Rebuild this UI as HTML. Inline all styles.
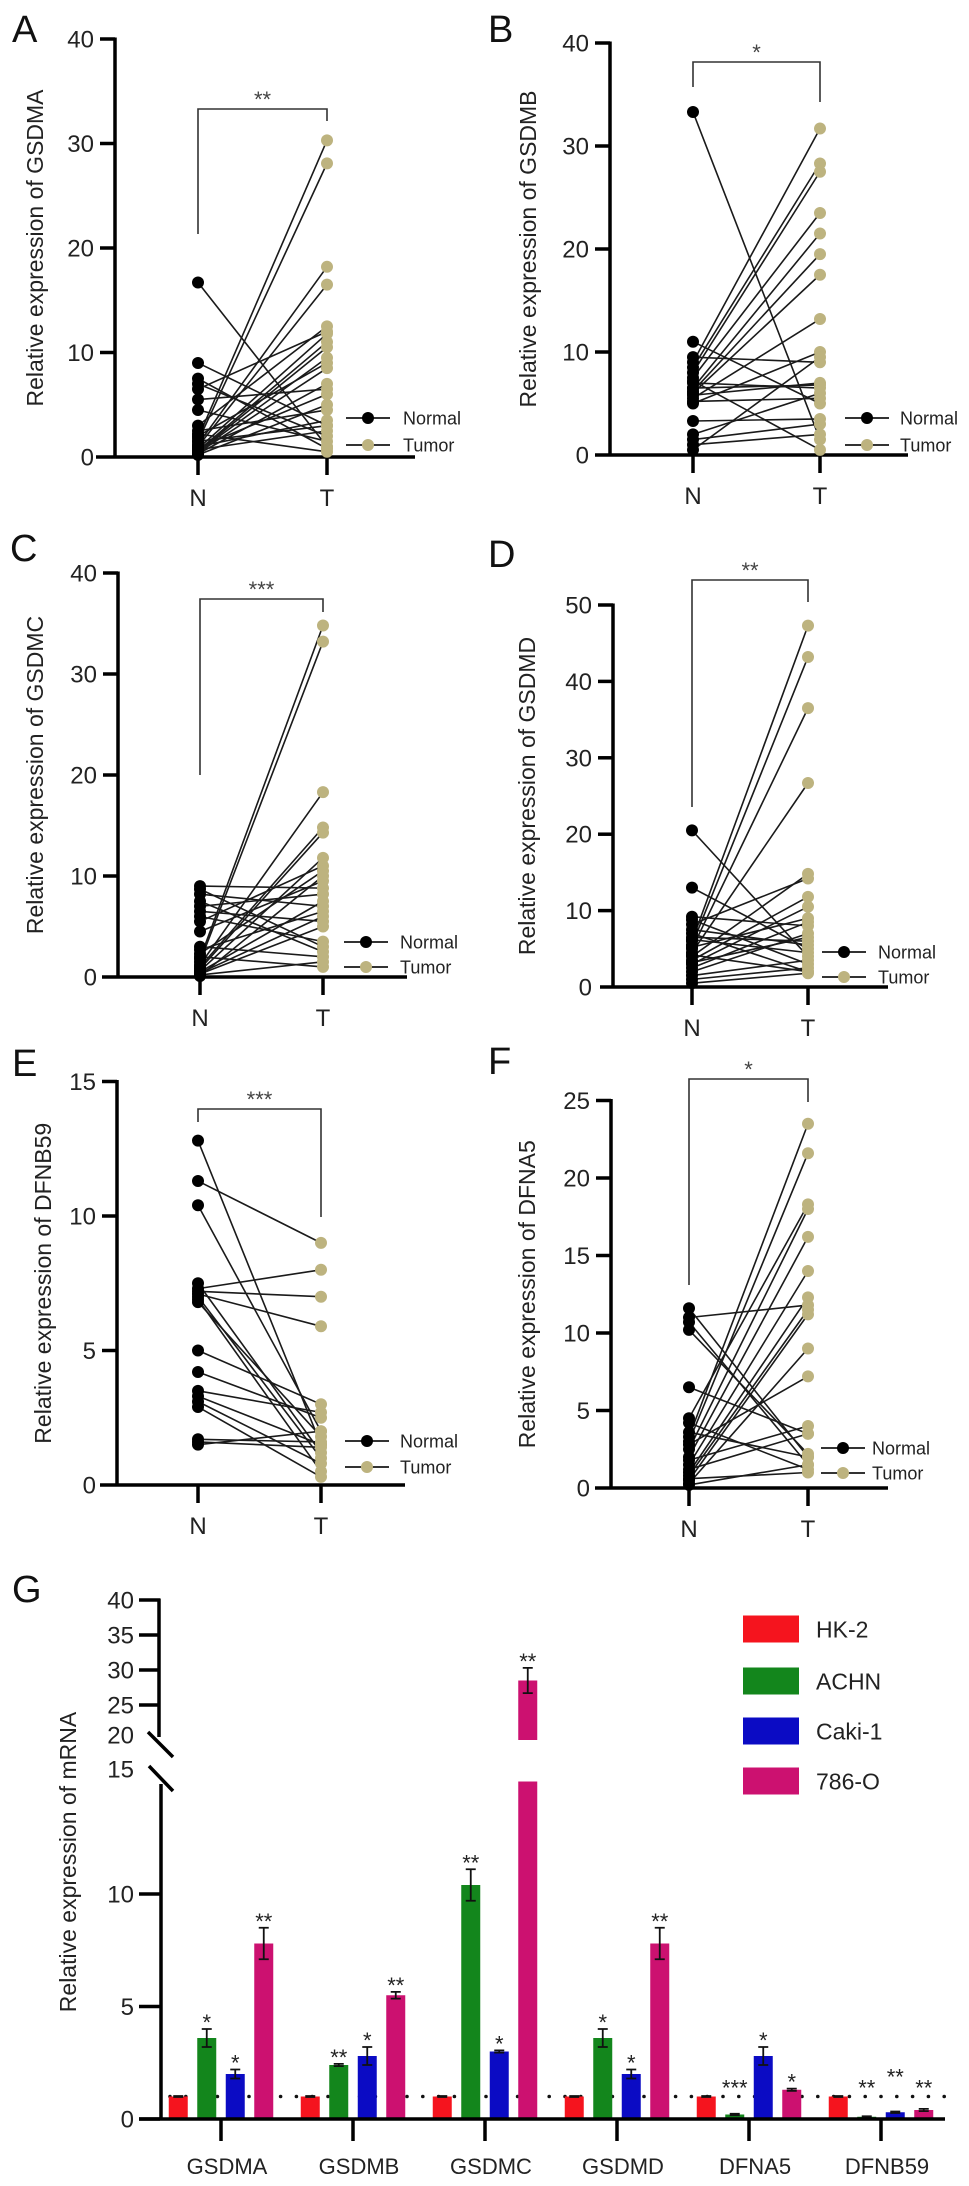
<!DOCTYPE html>
<html><head><meta charset="utf-8"><title>Gasdermin expression figure</title>
<style>
html,body{margin:0;padding:0;background:#fff;}
svg{display:block;font-family:"Liberation Sans",Arial,sans-serif;}
</style></head>
<body>
<svg id="fig" width="969" height="2186" viewBox="0 0 969 2186" xmlns="http://www.w3.org/2000/svg"></svg>
<script>
// ---------- Paired panel data (Normal -> Tumor) ----------
const gsdmaNormal = [16.7,9.0,7.5,7.0,6.5,5.5,4.5,3.0,2.5,2.0,1.8,1.5,1.2,1.0,0.8,0.6,0.5,0.4,0.3,0.2,1.0,0.7,2.2,0.9,0.5,1.5];
const gsdmaTumor  = [1.0,3.0,0.8,2.0,12.0,6.5,1.5,12.5,4.5,9.0,30.3,28.1,18.2,16.5,11.8,11.0,10.5,8.5,7.0,5.0,3.5,2.5,0.5,6.0,9.5,3.0];
const gsdmbNormal = [33.3,11.0,9.5,9.0,8.5,8.0,7.5,7.0,6.5,6.2,6.0,5.8,5.5,5.0,3.3,2.0,1.5,1.0,0.5,6.5,7.2,5.2];
const gsdmbTumor  = [1.5,5.0,9.0,31.7,28.3,27.5,23.5,6.5,21.5,19.5,17.5,7.0,13.2,10.0,3.5,6.0,3.0,2.0,9.5,6.8,0.5,5.5];
const gsdmcNormal = [9.0,8.7,8.2,7.5,7.0,6.5,6.0,5.5,4.5,3.0,2.7,2.3,2.0,1.8,1.5,1.2,1.0,0.8,0.6,0.5,0.4,0.3,0.2,0.1];
const gsdmcTumor  = [8.8,3.0,7.0,2.5,8.2,5.5,3.5,11.0,9.5,2.0,6.5,10.5,1.0,34.8,33.2,18.3,14.8,14.3,11.8,7.5,6.0,5.0,1.5,10.0];
const gsdmdNormal = [20.5,13.0,9.2,8.8,8.2,7.5,7.0,6.5,6.0,5.5,5.0,4.5,4.0,3.5,3.0,2.5,2.0,1.5,1.0,0.5,6.2,5.2,4.2,3.2];
const gsdmdTumor  = [4.0,5.0,8.0,3.0,14.2,5.5,2.0,6.0,47.3,43.2,36.5,26.7,14.8,11.8,10.5,8.5,7.0,3.5,2.5,1.8,4.5,9.0,2.0,6.5];
const dfnb59Normal = [12.8,11.3,10.4,7.5,7.3,7.2,7.1,7.0,6.9,6.8,5.0,4.2,3.5,3.3,3.1,2.9,1.7,1.5,1.6];
const dfnb59Tumor  = [1.5,9.0,2.0,1.2,8.0,7.0,5.9,1.0,0.5,1.8,3.0,2.5,2.7,1.5,0.8,0.3,1.6,2.0,1.4];
const dfna5Normal = [11.6,11.0,10.7,10.2,6.5,4.5,4.2,3.3,3.0,2.5,2.0,1.5,1.0,0.8,0.5,0.3,2.8,1.8,1.2,0.6,3.6,0.2];
const dfna5Tumor  = [2.0,11.8,1.5,2.2,3.5,18.3,1.2,23.5,21.6,18.0,16.2,14.0,12.3,11.5,11.2,9.0,7.2,4.0,3.5,1.0,2.0,1.5];

// ---------- Bar chart (G) data ----------
const genes = ["GSDMA","GSDMB","GSDMC","GSDMD","DFNA5","DFNB59"];
const cellLines = ["HK-2","ACHN","Caki-1","786-O"];
const hk2Values   = [1,1,1,1,1,1];
const achnValues  = [3.6,2.4,10.4,3.6,0.2,0.1];
const caki1Values = [2.0,2.8,3.0,2.0,2.8,0.3];
const o786Values  = [7.8,5.5,28.5,7.8,1.3,0.4];
const hk2Err   = [0.02,0.02,0.02,0.02,0.02,0.02];
const achnErr  = [0.4,0.05,0.7,0.4,0.03,0.02];
const caki1Err = [0.2,0.4,0.05,0.2,0.4,0.03];
const o786Err  = [0.7,0.15,1.8,0.7,0.05,0.05];
const achnStars  = ["*","**","**","*","***","**"];
const caki1Stars = ["*","*","*","*","*","**"];
const o786Stars  = ["**","**","**","**","*","**"];
const gLowerTicks = [0,5,10];
const gUpperTicks = [25,30,35,40];

const NS = "http://www.w3.org/2000/svg";
const svg = document.getElementById("fig");
function mk(tag, attrs, parent) {
  const el = document.createElementNS(NS, tag);
  for (const k in attrs) el.setAttribute(k, attrs[k]);
  (parent || svg).appendChild(el);
  return el;
}
function txt(str, attrs, parent) {
  const el = mk("text", attrs, parent);
  el.textContent = str;
  return el;
}

const TUMOR = "#bdb37f";
const panels = [
  {id:"a", letter:"A", gene:"GSDMA", n:gsdmaNormal, t:gsdmaTumor, ax:115, y0:457, ppu:10.45, max:40, step:10, nx:198, tx:327, xs:96, xe:415, lx:12, ly:42, titleX:35, br:[109,234,121], stars:"**", legX:368, legTX:403, legY:[418,445]},
  {id:"b", letter:"B", gene:"GSDMB", n:gsdmbNormal, t:gsdmbTumor, ax:610, y0:455, ppu:10.3, max:40, step:10, nx:693, tx:820, xs:595, xe:908, lx:488, ly:42, titleX:528, br:[62,87,102], stars:"*", legX:867, legTX:900, legY:[418,445]},
  {id:"c", letter:"C", gene:"GSDMC", n:gsdmcNormal, t:gsdmcTumor, ax:118, y0:977, ppu:10.1, max:40, step:10, nx:200, tx:323, xs:102, xe:407, lx:10, ly:561, titleX:35, br:[599,775,612], stars:"***", legX:366, legTX:400, legY:[942,967]},
  {id:"d", letter:"D", gene:"GSDMD", n:gsdmdNormal, t:gsdmdTumor, ax:613, y0:987, ppu:7.64, max:50, step:10, nx:692, tx:808, xs:600, xe:888, lx:488, ly:567, titleX:527, br:[580,807,602], stars:"**", legX:844, legTX:878, legY:[952,977]},
  {id:"e", letter:"E", gene:"DFNB59", n:dfnb59Normal, t:dfnb59Tumor, ax:117, y0:1485, ppu:26.9, max:15, step:5, nx:198, tx:321, xs:100, xe:405, lx:12, ly:1076, titleX:43, br:[1109,1122,1217], stars:"***", legX:367, legTX:400, legY:[1441,1467]},
  {id:"f", letter:"F", gene:"DFNA5", n:dfna5Normal, t:dfna5Tumor, ax:611, y0:1488, ppu:15.5, max:25, step:5, nx:689, tx:808, xs:595, xe:888, lx:488, ly:1074, titleX:527, br:[1079,1285,1102], stars:"*", legX:843, legTX:872, legY:[1448,1473]}
];

panels.forEach(p => {
  const y = v => p.y0 - v * p.ppu;
  const g = mk("g", {});
  
  

  const lab = txt(p.letter, {x:p.lx, y:p.ly, "font-size":38, fill:"#111"}, g);
  
  

  const yTop = y(p.max);
  const yAxis = mk("line", {x1:p.ax, y1:yTop - 1.5, x2:p.ax, y2:p.y0 + 1.5, stroke:"#000", "stroke-width":3.5}, g);
  
  
  const xAxis = mk("line", {x1:p.xs, y1:p.y0, x2:p.xe, y2:p.y0, stroke:"#000", "stroke-width":3.5}, g);
  
  

  for (let v = 0; v <= p.max; v += p.step) {
    if (v > 0) {
      const tk = mk("line", {x1:p.ax - 15, y1:y(v), x2:p.ax, y2:y(v), stroke:"#000", "stroke-width":3.5}, g);
      
      
    }
    const tl = txt(String(v), {x:p.ax - 21, y:y(v) + 8.5, "font-size":24, "text-anchor":"end", fill:"#222"}, g);
    
    
  }
  [[p.nx, "N"], [p.tx, "T"]].forEach(([x, s]) => {
    const tk = mk("line", {x1:x, y1:p.y0, x2:x, y2:p.y0 + 18, stroke:"#000", "stroke-width":3.5}, g);
    
    
    const tl = txt(s, {x:x, y:p.y0 + 49, "font-size":24, "text-anchor":"middle", fill:"#222"}, g);
    
    
  });

  const cy = (yTop + p.y0) / 2;
  const title = txt("Relative expression of " + p.gene, {x:0, y:0, "font-size":23, "text-anchor":"middle", fill:"#222", transform:"translate(" + (p.titleX + 8) + "," + cy + ") rotate(-90)"}, g);
  
  

  const brk = mk("path", {d:"M" + p.nx + "," + p.br[1] + " V" + p.br[0] + " H" + p.tx + " V" + p.br[2], fill:"none", stroke:"#333", "stroke-width":1.6}, g);
  
  
  const st = txt(p.stars, {x:(p.nx + p.tx) / 2, y:p.br[0] - 2, "font-size":22, "text-anchor":"middle", fill:"#444"}, g);
  
  

  for (let i = 0; i < p.n.length; i++) {
    const ln = mk("line", {x1:p.nx, y1:y(p.n[i]), x2:p.tx, y2:y(p.t[i]), stroke:"#1a1a1a", "stroke-width":1.6}, g);
    
    
  }
  for (let i = 0; i < p.n.length; i++) {
    const c = mk("circle", {cx:p.nx, cy:y(p.n[i]), r:6, fill:"#000"}, g);
    
    
  }
  for (let i = 0; i < p.t.length; i++) {
    const c = mk("circle", {cx:p.tx, cy:y(p.t[i]), r:6, fill:TUMOR}, g);
    
    
  }

  [["Normal", "#000"], ["Tumor", TUMOR]].forEach(([name, col], k) => {
    const ly = p.legY[k];
    const lg = mk("g", {}, g);
    
    
    mk("line", {x1:p.legX - 22, y1:ly, x2:p.legX + 22, y2:ly, stroke:"#333", "stroke-width":2}, lg);
    mk("circle", {cx:p.legX, cy:ly, r:6, fill:col}, lg);
    txt(name, {x:p.legTX, y:ly + 6.5, "font-size":18, fill:"#222"}, lg);
  });
});

// ---------- Panel G ----------
(function () {
  const g = mk("g", {});
  
  
  const AX = 160, BASE = 2119;
  const yG = v => v <= 15 ? BASE - v * 22.5 : 1740 - (v - 20) * 7;

  const lab = txt("G", {x:12, y:1602, "font-size":38, fill:"#111"}, g);
  
  

  const dots = mk("g", {}, g);
  
  
  for (let x = 170; x < 945; x += 15.8) mk("circle", {cx:x, cy:yG(1), r:1.8, fill:"#111"}, dots);

  const series = [
    {name:"HK-2", col:"#f5141e", v:hk2Values, e:hk2Err, s:null},
    {name:"ACHN", col:"#13861c", v:achnValues, e:achnErr, s:achnStars},
    {name:"Caki-1", col:"#0b0bc4", v:caki1Values, e:caki1Err, s:caki1Stars},
    {name:"786-O", col:"#cc1170", v:o786Values, e:o786Err, s:o786Stars}
  ];
  genes.forEach((gene, i) => {
    const cx = 221 + i * 132;
    series.forEach((s, j) => {
      const bx = cx + (j - 1.5) * 28.5 - 9.5;
      const v = s.v[i];
      if (v > 15) {
        const r1 = mk("rect", {x:bx, y:yG(15), width:19, height:BASE - yG(15), fill:s.col}, g);
        
        
        const r2 = mk("rect", {x:bx, y:yG(v), width:19, height:yG(20) - yG(v), fill:s.col}, g);
        
        
      } else {
        const r = mk("rect", {x:bx, y:yG(v), width:19, height:BASE - yG(v), fill:s.col}, g);
        
        
      }
      const hi = yG(v + s.e[i]), lo = yG(Math.max(0, v - s.e[i]));
      const eb = mk("path", {d:"M" + (bx + 9.5) + "," + lo + " V" + hi + " M" + (bx + 4.5) + "," + hi + " H" + (bx + 14.5) + " M" + (bx + 4.5) + "," + lo + " H" + (bx + 14.5), stroke:"#111", "stroke-width":1.8, fill:"none"}, g);
      
      
      if (s.s) {
        let sy = Math.min(hi + 1, yG(1) - 1);
        if (gene === "DFNB59" && j === 2) sy -= 11;
        const st = txt(s.s[i], {x:bx + 9.5, y:sy, "font-size":22, "text-anchor":"middle", fill:"#222"}, g);
        
        
      }
    });
    const tk = mk("line", {x1:cx, y1:BASE, x2:cx, y2:BASE + 22, stroke:"#000", "stroke-width":3.5}, g);
    
    
    const tl = txt(gene, {x:cx + 6, y:BASE + 55, "font-size":22, "text-anchor":"middle", fill:"#222"}, g);
    
    
  });

  const base = mk("line", {x1:139, y1:BASE, x2:945, y2:BASE, stroke:"#000", "stroke-width":3.5}, g);
  
  
  const upper = mk("line", {x1:AX - 1, y1:yG(40) - 1.5, x2:AX - 1, y2:1737, stroke:"#000", "stroke-width":3.5}, g);
  
  
  const lower = mk("line", {x1:AX + 1, y1:1784, x2:AX + 1, y2:BASE + 1.5, stroke:"#000", "stroke-width":3.5}, g);
  
  
  const brk = mk("path", {d:"M148,1732 L173,1757 M149,1766 L173,1791", stroke:"#000", "stroke-width":3.5, fill:"none"}, g);
  
  

  gLowerTicks.concat(gUpperTicks).forEach(v => {
    const tk = mk("line", {x1:139, y1:yG(v), x2:AX, y2:yG(v), stroke:"#000", "stroke-width":3.5}, g);
    
    
  });
  gLowerTicks.concat([15, 20]).concat(gUpperTicks).forEach(v => {
    const yy = v === 15 ? 1769 : (v === 20 ? 1735 : yG(v));
    const tl = txt(String(v), {x:134, y:yy + 8.5, "font-size":24, "text-anchor":"end", fill:"#222"}, g);
    
    
  });

  const title = txt("Relative expression of mRNA", {x:0, y:0, "font-size":23, "text-anchor":"middle", fill:"#222", transform:"translate(76,1862) rotate(-90)"}, g);
  
  

  const legY = [1629, 1681, 1731, 1781];
  series.forEach((s, k) => {
    const lg = mk("g", {}, g);
    
    
    mk("rect", {x:743, y:legY[k] - 13.5, width:56, height:27, fill:s.col}, lg);
    txt(cellLines[k], {x:816, y:legY[k] + 8.5, "font-size":23, fill:"#222"}, lg);
  });
})();
</script>
</body></html>
